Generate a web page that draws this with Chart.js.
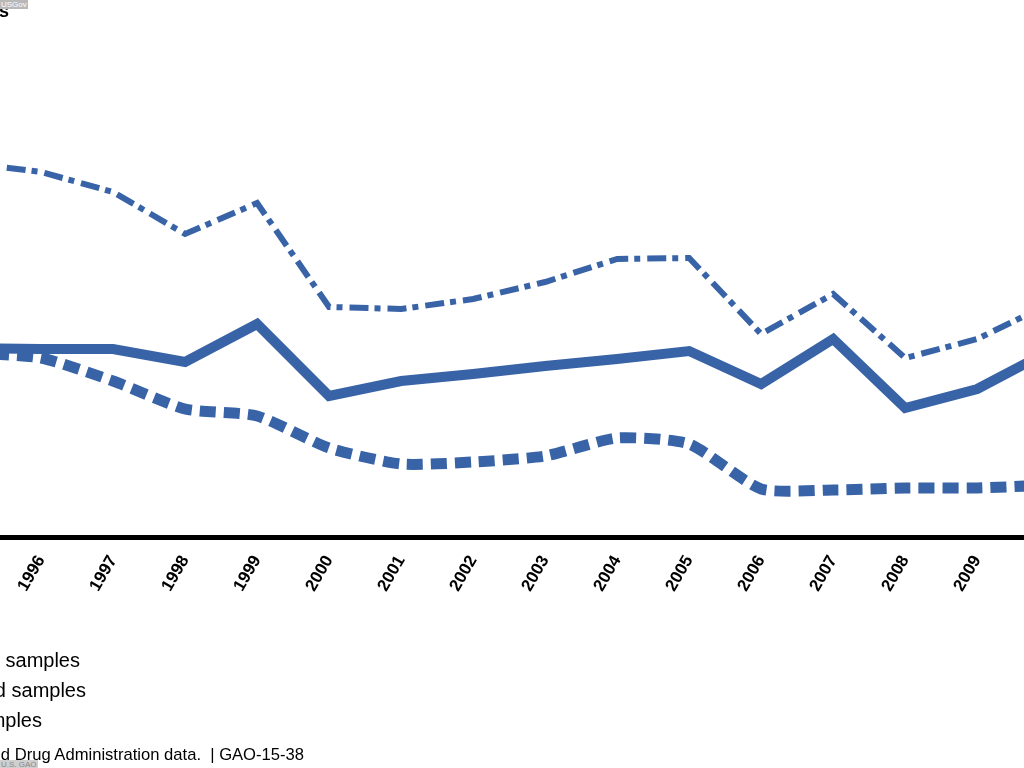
<!DOCTYPE html>
<html><head><meta charset="utf-8">
<script src="https://cdn.jsdelivr.net/npm/chart.js@4"></script>
<style>
html,body{margin:0;padding:0;background:#fff;overflow:hidden;}
#wrap{position:relative;width:1024px;height:768px;overflow:hidden;font-family:"Liberation Sans",Arial,sans-serif;background:#fff;}
canvas{position:absolute;left:0;top:0;}
.r{position:absolute;white-space:pre;text-align:right;color:#000;}
.wm{position:absolute;font-size:8px;line-height:9px;color:#fff;background:#b8b8b8;padding:0 1px;white-space:nowrap;}
</style></head><body>
<div id="wrap">
<canvas id="c" width="1024" height="768"></canvas>
<div class="r" style="right:1015px;top:2px;font-weight:bold;font-size:18px;line-height:18px;">Percentage of samples</div>
<div class="r" style="right:944px;top:650px;font-size:20px;line-height:20px;">Domestic samples</div>
<div class="r" style="right:938px;top:680px;font-size:20px;line-height:20px;">Imported samples</div>
<div class="r" style="right:982px;top:710px;font-size:20px;line-height:20px;">All samples</div>
<div class="r" style="right:720px;top:745px;font-size:16.6px;line-height:20px;">Source: GAO analysis of Food and Drug Administration data.  | GAO-15-38</div>
<div class="wm" style="left:0;top:0;">USGov</div>
<div class="wm" style="left:0;top:760px;background:#cfcfcf;color:#888;">U.S. GAO</div>
</div>
<script>
const years = ['1995','1996','1997','1998','1999','2000','2001','2002','2003','2004','2005','2006','2007','2008','2009','2010'];
const dashDotValues = [37.4, 36.5, 34.5, 30.3, 33.4, 23.0, 22.8, 23.8, 25.5, 27.8, 27.9, 20.3, 24.3, 17.9, 19.8, 23.3];
const solidValues   = [18.9, 18.8, 18.8, 17.5, 21.3, 14.1, 15.6, 16.3, 17.1, 17.8, 18.6, 15.3, 19.8, 12.9, 14.8, 18.6];
const dashedValues  = [18.4, 17.9, 15.6, 12.8, 12.1, 8.9, 7.3, 7.5, 8.1, 9.9, 9.3, 4.8, 4.7, 4.9, 4.9, 5.2];
const seriesNames = ['Imported samples', 'All samples', 'Domestic samples'];

const BLUE = '#3863a7';
const pts = vals => vals.map((v, i) => ({x: Number(years[i]), y: v}));
const xMin = 1995.43, xMax = 2009.65;

new Chart(document.getElementById('c'), {
  type: 'line',
  data: {
    datasets: [
      {label: seriesNames[2], data: pts(dashedValues), borderColor: BLUE, borderWidth: 11, borderDash: [16, 8], pointRadius: 0, tension: 0.2, fill: false},
      {label: seriesNames[1], data: pts(solidValues), borderColor: BLUE, borderWidth: 10, pointRadius: 0, tension: 0, fill: false, borderJoinStyle: 'miter'},
      {label: seriesNames[0], data: pts(dashDotValues), borderColor: BLUE, borderWidth: 6, borderDash: [19, 6, 6, 7], pointRadius: 0, tension: 0, fill: false}
    ]
  },
  options: {
    responsive: false,
    animation: false,
    devicePixelRatio: 1,
    layout: {padding: {left: 0, right: 0, top: 37, bottom: 0}},
    plugins: {legend: {display: false}, title: {display: false}, tooltip: {enabled: false}},
    scales: {
      x: {
        type: 'linear', min: xMin, max: xMax,
        grid: {display: false, drawTicks: false},
        border: {display: true, color: '#000', width: 5},
        afterFit: s => { s.height = 231; },
        ticks: {
          stepSize: 1, includeBounds: false, autoSkip: false,
          minRotation: 60, maxRotation: 60, padding: 15,
          color: '#000', font: {family: '"Liberation Sans", Arial, sans-serif', size: 17, weight: 'bold'},
          callback: v => years[years.indexOf(String(v))] || ''
        }
      },
      y: {display: false, min: 0, max: 50}
    }
  }
});
</script>
</body></html>
